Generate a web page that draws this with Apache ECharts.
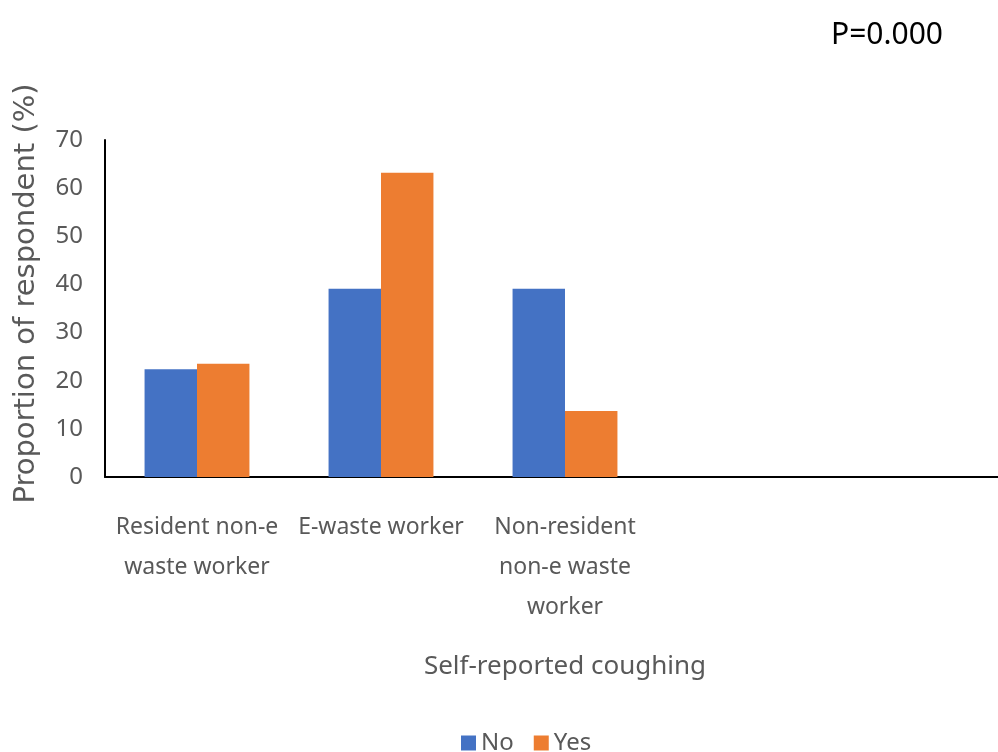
<!DOCTYPE html>
<html>
<head>
<meta charset="utf-8">
<script src="https://cdn.jsdelivr.net/npm/echarts@6/dist/echarts.min.js"></script>
<style>
  html, body { margin: 0; padding: 0; background: #fff; }
  #chart { width: 998px; height: 752px; }
</style>
</head>
<body>
<div id="chart"></div>
<script>
// categories (last two slots are empty, the plot runs past the right edge)
var categories = ['Resident non-e\nwaste worker', 'E-waste worker', 'Non-resident\nnon-e waste\nworker', '', '']
var noData = [22.4, 39.1, 39.1, null, null]
var yesData = [23.5, 63.2, 13.7, null, null]
var yTicks = [0, 10, 20, 30, 40, 50, 60, 70]

var grey = '#595959'
var font = 'Noto Sans'

var chart = echarts.init(document.getElementById('chart'))
var option = {
  animation: false,
  textStyle: { fontFamily: font },
  title: {
    text: 'P=0.000',
    right: 50,
    top: 15,
    textStyle: { color: '#000', fontSize: 30, fontWeight: 'normal', fontFamily: font }
  },
  legend: {
    bottom: -8,
    left: 456,
    itemWidth: 15,
    itemHeight: 15,
    itemGap: 20,
    icon: 'rect',
    textStyle: { color: grey, fontSize: 24, fontFamily: font },
    data: ['No', 'Yes']
  },
  grid: {
    left: 105,
    width: 920,
    top: 140,
    bottom: 275,
    outerBoundsMode: 'none',
    containLabel: false
  },
  xAxis: {
    type: 'category',
    data: categories,
    name: 'Self-reported coughing',
    nameLocation: 'middle',
    nameGap: 177,
    nameTextStyle: { color: grey, fontSize: 26, fontFamily: font },
    axisLine: { show: true, lineStyle: { color: '#000', width: 2 } },
    axisTick: { show: false },
    axisLabel: {
      interval: 0,
      color: grey,
      fontSize: 23,
      lineHeight: 40,
      margin: 30,
      fontFamily: font
    }
  },
  yAxis: {
    type: 'value',
    min: yTicks[0],
    max: yTicks[yTicks.length - 1],
    interval: 10,
    name: 'Proportion of respondent (%)',
    nameLocation: 'middle',
    nameRotate: 90,
    nameGap: 64,
    nameTextStyle: { color: grey, fontSize: 29, fontFamily: 'DejaVu Sans', padding: [0, 0, 0, 30] },
    axisLine: { show: true, lineStyle: { color: '#000', width: 2 } },
    axisTick: { show: false },
    splitLine: { show: false },
    axisLabel: { color: grey, fontSize: 24, margin: 22, fontFamily: font }
  },
  series: [
    {
      name: 'No',
      type: 'bar',
      data: noData,
      barGap: '0%',
      barCategoryGap: '43%',
      itemStyle: { color: '#4472C4' }
    },
    {
      name: 'Yes',
      type: 'bar',
      data: yesData,
      barGap: '0%',
      barCategoryGap: '43%',
      itemStyle: { color: '#ED7D31' }
    }
  ]
}
chart.setOption(option)
</script>
</body>
</html>
